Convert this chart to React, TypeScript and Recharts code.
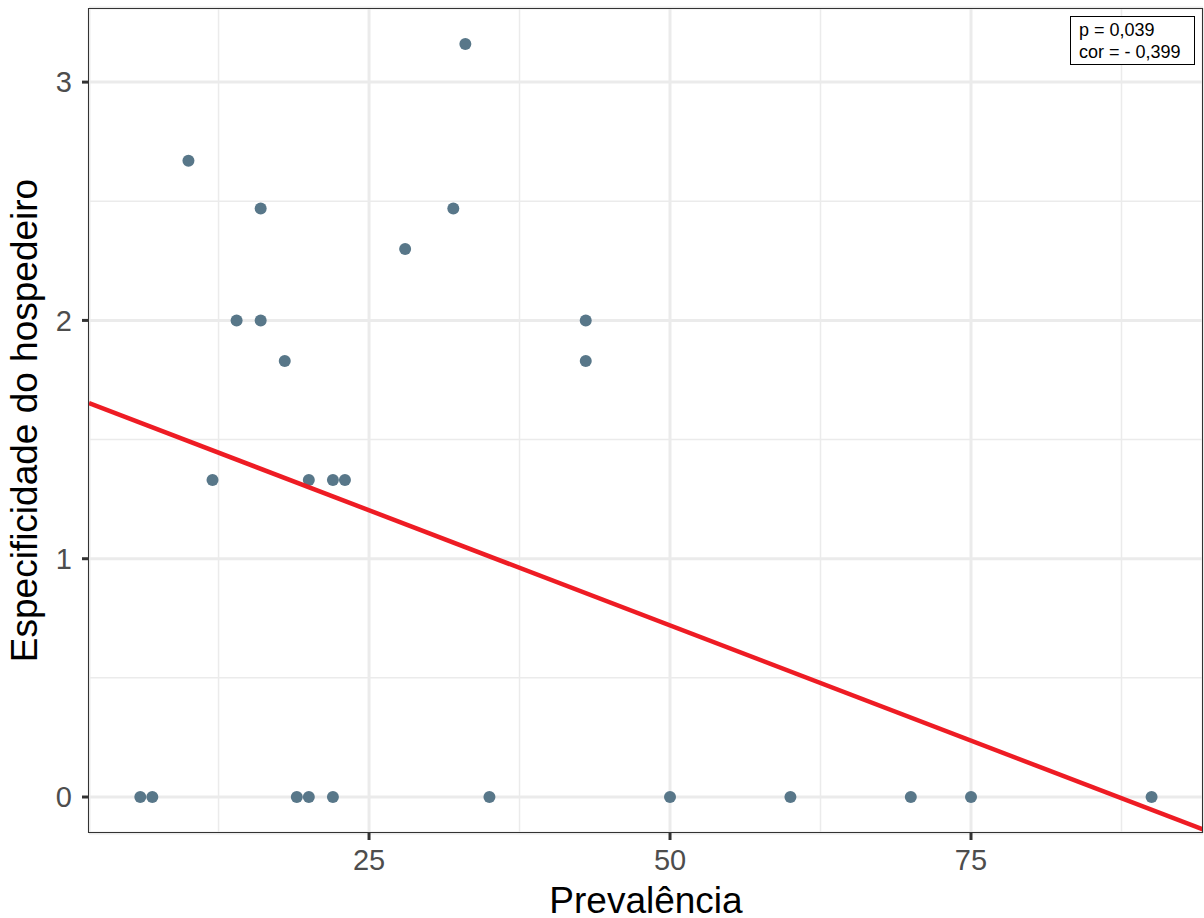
import React from 'react';
import {
  ComposedChart,
  Scatter,
  XAxis,
  YAxis,
  CartesianGrid,
  ReferenceLine,
  Label,
} from 'recharts';

const prevalence = [6, 7, 10, 12, 14, 16, 16, 18, 19, 20, 20, 22, 22, 23, 28, 32, 33, 35, 43, 43, 50, 60, 70, 75, 90];
const specificity = [0, 0, 2.67, 1.33, 2, 2.47, 2, 1.83, 0, 1.33, 0, 1.33, 0, 1.33, 2.3, 2.47, 3.16, 0, 2, 1.83, 0, 0, 0, 0, 0];

const points = prevalence.map((x, i) => ({ x, y: specificity[i] }));

// linear fit at the panel edges
const fitLine = [
  { x: 1.74, y: 1.653 },
  { x: 94.27, y: -0.136 },
];

const xTicks = [25, 50, 75];
const yTicks = [0, 1, 2, 3];
const xMinor = [12.5, 37.5, 62.5, 87.5];
const yMinor = [0.5, 1.5, 2.5];

const statLines = ['p = 0,039', 'cor = - 0,399'];

const FONT = '"Liberation Sans", Arial, sans-serif';

function Dot(props: any) {
  const { cx, cy } = props;
  if (cx == null || cy == null) return null;
  return <circle cx={cx} cy={cy} r={6} fill="#587789" />;
}

export default function App() {
  return (
    <div style={{ position: 'absolute', left: 0, top: 0, width: 1204, height: 918, background: '#fff', fontFamily: FONT }}>
      <ComposedChart width={1204} height={918} margin={{ top: 8, right: 1, bottom: 0, left: 0 }}>
        <CartesianGrid stroke="#EBEBEB" strokeWidth={3} />
        {xMinor.map((v) => (
          <ReferenceLine key={'xm' + v} x={v} stroke="#EBEBEB" strokeWidth={1.5} />
        ))}
        {yMinor.map((v) => (
          <ReferenceLine key={'ym' + v} y={v} stroke="#EBEBEB" strokeWidth={1.5} />
        ))}
        <XAxis
          type="number"
          dataKey="x"
          domain={[1.74, 94.27]}
          ticks={xTicks}
          allowDataOverflow
          height={85}
          axisLine={false}
          tickSize={7}
          tickLine={{ stroke: '#333', strokeWidth: 3 }}
          tick={{ fill: '#4D4D4D', fontSize: 29, fontFamily: FONT }}
          tickMargin={9}
        >
          <Label value="Prevalência" position="insideBottom" offset={5} fill="#000" fontSize={37} fontFamily={FONT} />
        </XAxis>
        <YAxis
          type="number"
          dataKey="y"
          domain={[-0.151, 3.311]}
          ticks={yTicks}
          allowDataOverflow
          width={89}
          axisLine={false}
          tickSize={7}
          tickLine={{ stroke: '#333', strokeWidth: 3 }}
          tick={{ fill: '#4D4D4D', fontSize: 29, fontFamily: FONT }}
          tickMargin={10}
        >
          <Label
            value="Especificidade do hospedeiro"
            angle={-90}
            position="insideLeft"
            offset={24}
            style={{ textAnchor: 'middle' }}
            fill="#000"
            fontSize={37}
            fontFamily={FONT}
          />
        </YAxis>
        <Scatter data={points} shape={Dot} isAnimationActive={false} />
        <Scatter
          data={fitLine}
          line={{ stroke: '#EE1C24', strokeWidth: 4.5 }}
          shape={() => null}
          isAnimationActive={false}
        />
      </ComposedChart>
      <div
        style={{
          position: 'absolute',
          left: 88,
          top: 8,
          width: 1115,
          height: 825,
          border: '1.5px solid #333',
          boxSizing: 'border-box',
          pointerEvents: 'none',
        }}
      />
      <div
        style={{
          position: 'absolute',
          left: 1070,
          top: 16,
          width: 125,
          height: 49,
          border: '1px solid #000',
          boxSizing: 'border-box',
          background: '#fff',
          fontSize: 18,
          lineHeight: '22px',
          padding: '2px 0 0 8px',
          color: '#000',
          whiteSpace: 'nowrap',
        }}
      >
        {statLines.map((s) => (
          <div key={s}>{s}</div>
        ))}
      </div>
    </div>
  );
}
